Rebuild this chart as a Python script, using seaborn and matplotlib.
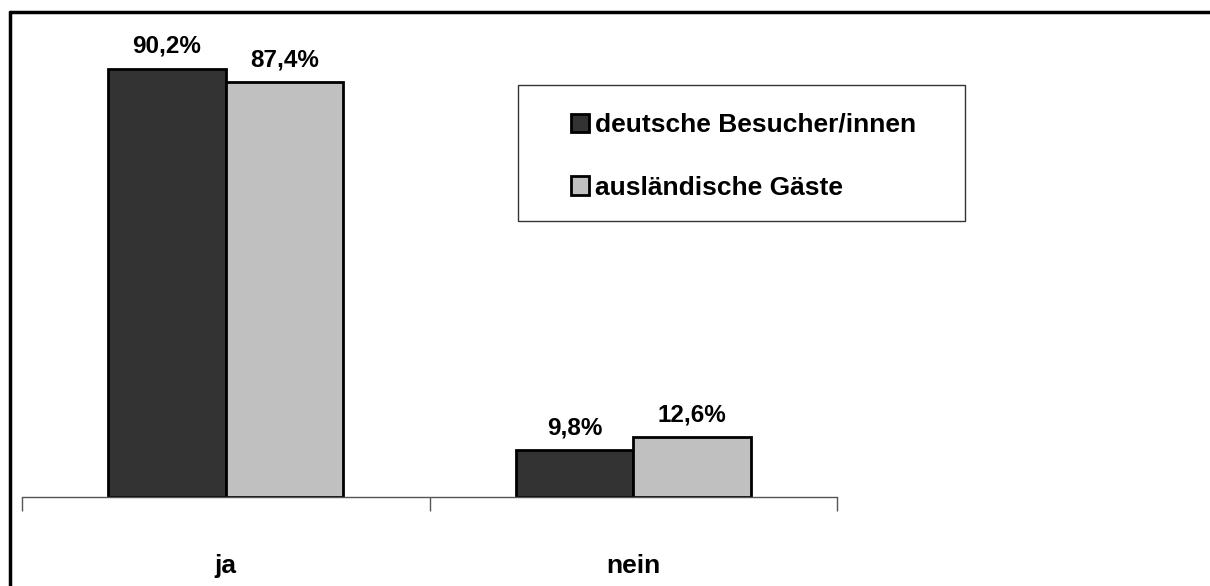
import pandas as pd
import numpy as np
import matplotlib.pyplot as plt
from matplotlib.lines import Line2D
from matplotlib.patches import Rectangle
import seaborn as sns

# Daten
antworten = ['ja', 'nein']
gruppen = ['deutsche Besucher/innen', 'ausländische Gäste']
deutsche = [90.2, 9.8]
auslaendische = [87.4, 12.6]
farben = ['#333333', '#c0c0c0']

df = pd.DataFrame({
    'Antwort': antworten * 2,
    'Gruppe': [gruppen[0]] * 2 + [gruppen[1]] * 2,
    'Prozent': deutsche + auslaendische,
})

sns.set_style('white')
plt.rcParams['font.family'] = ['Liberation Sans', 'DejaVu Sans']
plt.rcParams['font.weight'] = 'bold'
plt.rcParams['text.color'] = 'black'
plt.rcParams['xtick.color'] = 'black'

fig = plt.figure(figsize=(12.1, 5.86), dpi=100)
ax = fig.add_axes([22 / 1210, 89 / 586, 815 / 1210, 474.5 / 586])

sns.barplot(data=df, x='Antwort', y='Prozent', hue='Gruppe', palette=farben,
            width=0.577, edgecolor='black', linewidth=2, ax=ax)

ax.set_xlim(-0.5, 1.5)
ax.set_ylim(0, 100)

# Werte über den Balken
for cont in ax.containers:
    ax.bar_label(cont, labels=[f'{v:.1f}%'.replace('.', ',') for v in cont.datavalues],
                 padding=8, fontsize=17.5, fontweight='bold', color='black')

# Achsen
for s in ['top', 'right', 'left']:
    ax.spines[s].set_visible(False)
ax.spines['bottom'].set_color('#555555')
ax.spines['bottom'].set_linewidth(1)
ax.set_yticks([])
ax.set_xticks([-0.5, 0.5, 1.5])
ax.set_xticklabels([])
ax.tick_params(axis='x', which='major', direction='out', length=10, width=1, color='#555555', bottom=True)
ax.set_xticks([0, 1], minor=True)
ax.set_xticklabels(antworten, minor=True, fontsize=19, fontweight='bold', color='black')
ax.tick_params(axis='x', which='minor', length=0, pad=41)
ax.set_xlabel('')
ax.set_ylabel('')

# Legende mit eigenem Rahmen
handles, labels = ax.get_legend_handles_labels()
ax.get_legend().remove()
fig.add_artist(Rectangle((518 / 1210, 1 - 221 / 586), 447 / 1210, 136 / 586,
                         transform=fig.transFigure, facecolor='white',
                         edgecolor='#333333', lw=1))
leg = fig.legend(handles, labels, loc='upper left',
                 bbox_to_anchor=(571 / 1210, 1 - 113 / 586), bbox_transform=fig.transFigure,
                 frameon=False, fontsize=19,
                 handlelength=0.7, handleheight=0.7, handletextpad=0.2,
                 labelspacing=1.47, borderpad=0, borderaxespad=0)
for t in leg.get_texts():
    t.set_fontweight('bold')
    t.set_color('black')

# Rahmen oben und links
fig.add_artist(Line2D([10 / 1210, 1], [1 - 12 / 586, 1 - 12 / 586], transform=fig.transFigure,
                      color='black', lw=2.5))
fig.add_artist(Line2D([10 / 1210, 10 / 1210], [0, 1 - 12 / 586], transform=fig.transFigure,
                      color='black', lw=2.5))

fig.savefig('out.png', dpi=100)
